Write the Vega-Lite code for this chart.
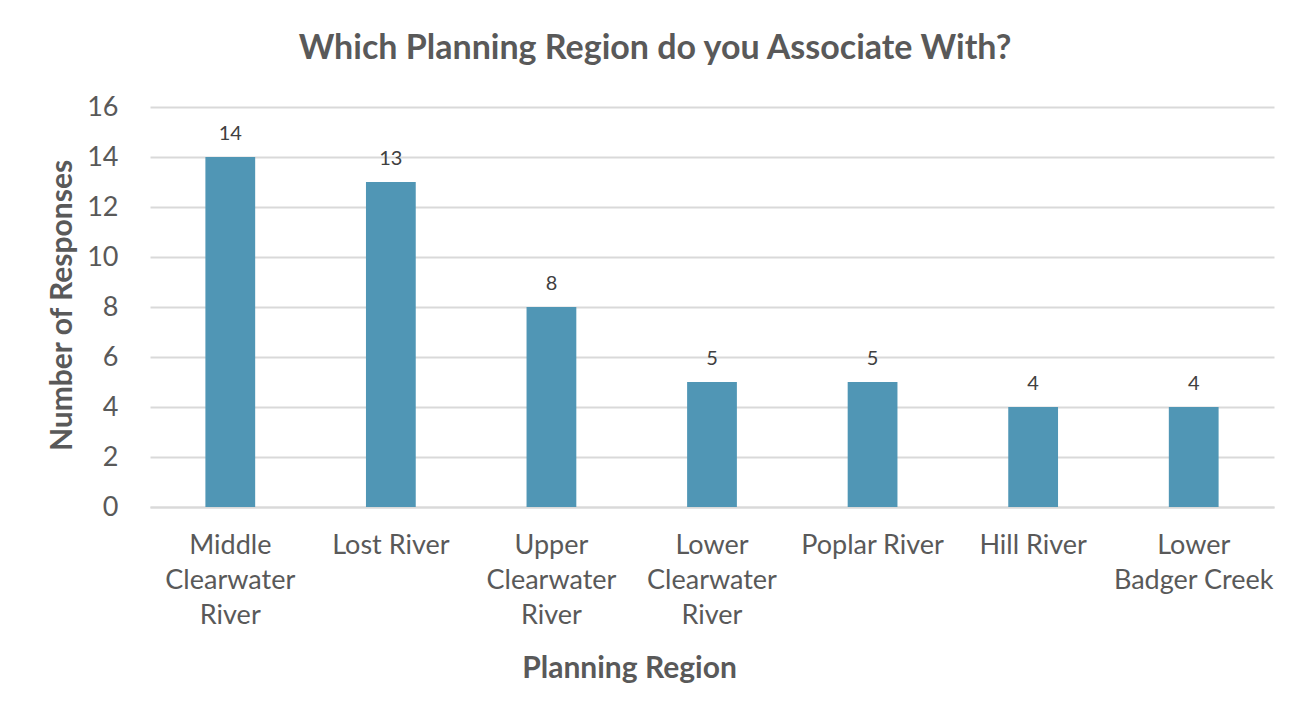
{
  "$schema": "https://vega.github.io/schema/vega-lite/v6.json",
  "autosize": "none",
  "width": 1124,
  "height": 400,
  "padding": {"left": 150, "top": 107, "right": 31, "bottom": 202},
  "background": "white",
  "title": {
    "text": "Which Planning Region do you Associate With?",
    "font": "Lato",
    "fontSize": 34,
    "fontWeight": "bold",
    "color": "#595959",
    "anchor": "middle",
    "dx": -57,
    "baseline": "alphabetic",
    "offset": 0
  },
  "data": {
    "values": [
      {"region": "Middle Clearwater River", "responses": 14},
      {"region": "Lost River", "responses": 13},
      {"region": "Upper Clearwater River", "responses": 8},
      {"region": "Lower Clearwater River", "responses": 5},
      {"region": "Poplar River", "responses": 5},
      {"region": "Hill River", "responses": 4},
      {"region": "Lower Badger Creek", "responses": 4}
    ]
  },
  "encoding": {
    "x": {
      "field": "region",
      "type": "nominal",
      "sort": null,
      "scale": {"paddingInner": 0.69, "paddingOuter": 0.345},
      "axis": {
        "title": "Planning Region",
        "titleFont": "Lato",
        "titleFontSize": 30,
        "titleFontWeight": "bold",
        "titleColor": "#595959",
        "titleX": 479,
        "titleY": 161,
        "titleBaseline": "middle",
        "labelFont": "Lato",
        "labelFontSize": 27,
        "labelColor": "#595959",
        "labelAngle": 0,
        "labelPadding": 25,
        "labelLineHeight": 35,
        "labelBaseline": "top",
        "labelExpr": "{'Middle Clearwater River': ['Middle', 'Clearwater', 'River'], 'Upper Clearwater River': ['Upper', 'Clearwater', 'River'], 'Lower Clearwater River': ['Lower', 'Clearwater', 'River'], 'Lower Badger Creek': ['Lower', 'Badger Creek']}[datum.value] || datum.value",
        "ticks": false,
        "domainColor": "#D9D9D9",
        "domainWidth": 2,
        "labelLimit": 300
      }
    },
    "y": {
      "field": "responses",
      "type": "quantitative",
      "scale": {"domain": [0, 16]},
      "axis": {
        "title": "Number of Responses",
        "titleFont": "Lato",
        "titleFontSize": 30,
        "titleFontWeight": "bold",
        "titleColor": "#595959",
        "titleAngle": -90,
        "titleX": -88,
        "titleY": 198,
        "titleBaseline": "middle",
        "titleAlign": "center",
        "values": [0, 2, 4, 6, 8, 10, 12, 14, 16],
        "labelFont": "Lato",
        "labelFontSize": 27,
        "labelColor": "#595959",
        "labelPadding": 32,
        "ticks": false,
        "domain": false,
        "gridColor": "#D9D9D9",
        "gridWidth": 2
      }
    }
  },
  "layer": [
    {"mark": {"type": "bar", "color": "#5096B5"}},
    {
      "mark": {"type": "text", "font": "Lato", "fontSize": 20, "color": "#404040", "baseline": "alphabetic", "dy": -17},
      "encoding": {"text": {"field": "responses", "type": "quantitative"}}
    }
  ],
  "config": {"view": {"stroke": null}}
}
